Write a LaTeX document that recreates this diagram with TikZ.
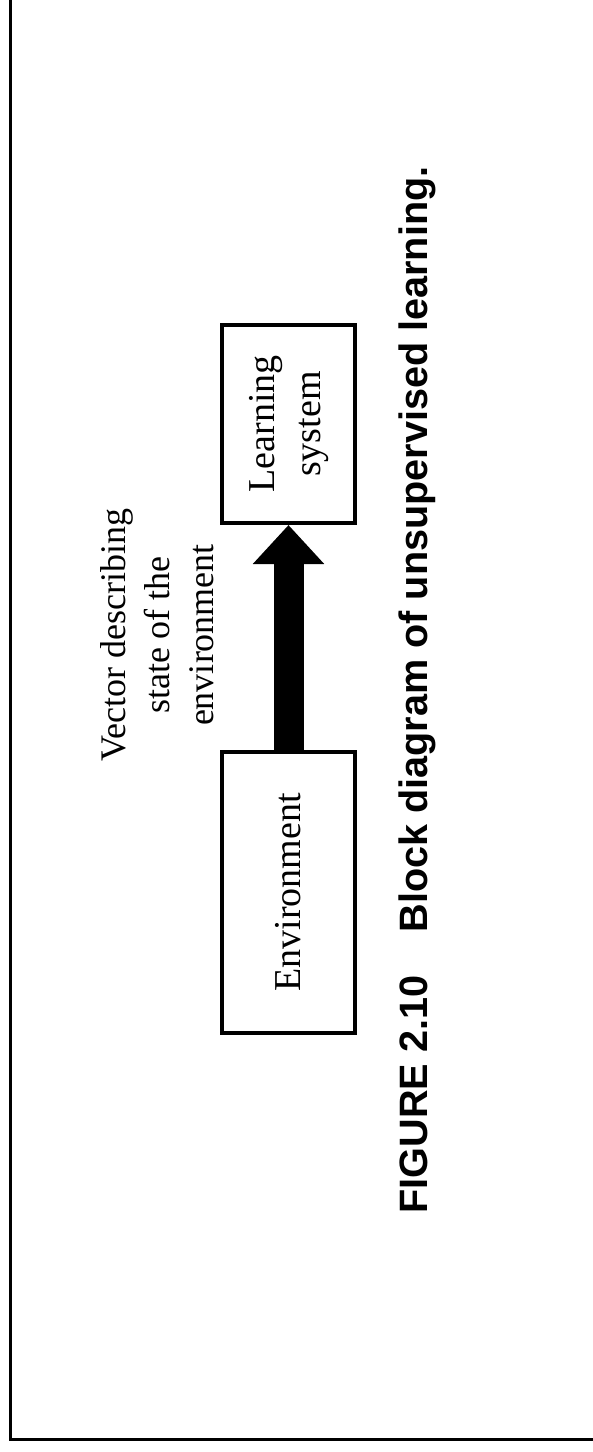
\documentclass[tikz,border=0pt]{standalone}
\usepackage{fontspec}
\usepackage{graphicx}
\setmainfont{Liberation Serif}
\newfontfamily\capfont{Liberation Sans}
\usetikzlibrary{arrows.meta, positioning}
\definecolor{cink}{HTML}{000000}
\tikzset{
  every picture/.style={line width=1.2pt},
  blockbox/.style={draw=cink, line width=2pt, inner sep=0pt, minimum width=66.5pt, align=center, font=\fontsize{19}{23}\selectfont},
  bigarrow/.style={-{Triangle[length=19.5pt, width=34.5pt]}, draw=cink, line width=15pt},
  note/.style={font=\fontsize{18}{22}\selectfont, align=center, rotate=90},
  caption/.style={font=\capfont\bfseries\fontsize{19.8}{24}\selectfont, rotate=90},
}
\begin{document}
\begin{tikzpicture}[x=0.5pt, y=-0.5pt]
  \useasboundingbox (0,0) rectangle (593,1452);
  % page frame
  \draw[line width=1.5pt] (10,0) -- (10,1439) -- (593,1439);
  \node[blockbox, minimum height=99pt] (learn) at (288.5, 424) {\rotatebox{90}{\begin{tabular}{@{}c@{}}Learning\\system\end{tabular}}};
  \node[blockbox, minimum height=140.5pt] (env) at (288.5, 892.5) {\rotatebox{90}{Environment}};
  \draw[bigarrow] (env.north) -- (learn.south);
  \node[note] (vec) at (157, 635) {Vector describing\\state of the\\environment};
  \node[caption] (cap) at (417, 690) {FIGURE 2.10\hspace{1.1em}Block diagram of unsupervised learning.};
\end{tikzpicture}
\end{document}
